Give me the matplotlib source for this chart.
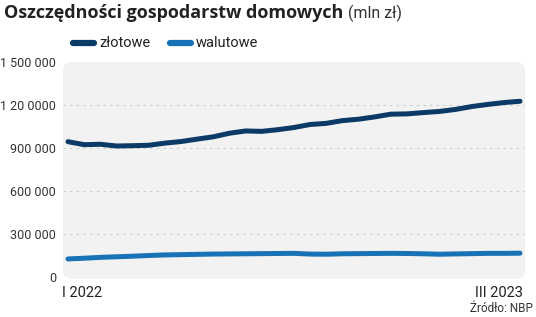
import matplotlib
matplotlib.use("Agg")
import matplotlib.pyplot as plt
from matplotlib.patches import FancyBboxPatch
from matplotlib.lines import Line2D
import numpy as np

# ---- data (semi-monthly readings, I 2022 .. III 2023) ----
periods = np.arange(29) * 0.5  # months since Jan 2022
zlotowe = [944000, 923000, 926000, 914000, 916000, 919000, 934000, 945000, 962000,
           978000, 1003000, 1019000, 1016000, 1028000, 1043000, 1064000, 1072000,
           1091000, 1101000, 1117000, 1136000, 1138000, 1147000, 1155000, 1169000,
           1189000, 1204000, 1217000, 1226000]
walutowe = [126000, 131000, 137000, 141000, 145000, 150000, 154000, 156000, 158000,
            160000, 161000, 162000, 163000, 164000, 165000, 160000, 159000, 162000,
            163000, 164000, 165000, 164000, 162000, 159000, 161000, 163000, 165000,
            165000, 166000]
ytick_vals = [0, 300000, 600000, 900000, 1200000, 1500000]
ytick_labels = ["0", "300 000", "600 000", "900 000", "1 20 0000", "1 500 000"]
xlabels = ["I 2022", "III 2023"]
series_names = ["złotowe", "walutowe"]
colors = ["#0b3a66", "#1a72b6"]

plt.rcParams['font.family'] = ['Roboto', 'DejaVu Sans']

W, H = 536, 317
fig = plt.figure(figsize=(W / 100, H / 100), dpi=100)
L, R, T, B = 63, 525, 62, 279
ax = fig.add_axes([L / W, 1 - B / H, (R - L) / W, (B - T) / H])
ax.set_facecolor("none")
for s in ax.spines.values():
    s.set_visible(False)

# rounded panel
aspect = (R - L) / (B - T)
panel = FancyBboxPatch((0, 0), 1, 1, boxstyle="round,pad=0,rounding_size=0.02",
                       mutation_aspect=aspect, transform=ax.transAxes,
                       facecolor="#f2f2f2", edgecolor="none", zorder=0, clip_on=False)
ax.add_patch(panel)

px_month = 14 / (520 - 68)
ax.set_xlim(0 - 5 * px_month, 14 + 5 * px_month)
px_val = 300000 / 43
ax.set_ylim(0 - 2 * px_val, 1500000)

for v in ytick_vals[1:-1]:
    ax.axhline(v, color="#c9c9c9", lw=0.8, ls=(0, (2, 4)), zorder=1)

ax.plot(periods, zlotowe, color=colors[0], lw=3.6, solid_capstyle="round", zorder=3)
ax.plot(periods, walutowe, color=colors[1], lw=3.6, solid_capstyle="round", zorder=3)

ax.set_yticks(ytick_vals)
ax.set_yticklabels(ytick_labels, fontsize=9, color="#333333")
ax.tick_params(axis="y", length=0, pad=5)
ax.set_xticks([])

# x labels
ax.text(-0.002, -0.03, xlabels[0], transform=ax.transAxes, ha="left", va="top",
        fontsize=10.5, color="#222222")
ax.text(0.995, -0.03, xlabels[1], transform=ax.transAxes, ha="right", va="top",
        fontsize=10.5, color="#222222")
fig.text(533 / W, 1 - 309 / H, "Źródło: NBP", ha="right", va="center",
         fontsize=8.5, color="#333333")

# title
t = fig.text(4 / W, 1 - 13 / H, "Oszczędności gospodarstw domowych", ha="left",
             va="center", fontsize=13, fontweight="bold", color="#222222",
             family=["Open Sans", "DejaVu Sans"])
fig.canvas.draw()
bb = t.get_window_extent()
fig.text((bb.x1 + 5) / W, 1 - 13 / H, "(mln zł)", ha="left", va="center",
         fontsize=11.5, color="#333333")

# legend
ly = 1 - 43 / H
for x0, name, c in [(73, series_names[0], colors[0]), (170, series_names[1], colors[1])]:
    fig.add_artist(Line2D([x0 / W, (x0 + 21) / W], [ly, ly], color=c, lw=4.5,
                          solid_capstyle="round", transform=fig.transFigure))
    fig.text((x0 + 26) / W, ly, name, ha="left", va="center", fontsize=10.5,
             color="#222222")

fig.savefig("out.png", dpi=100)
